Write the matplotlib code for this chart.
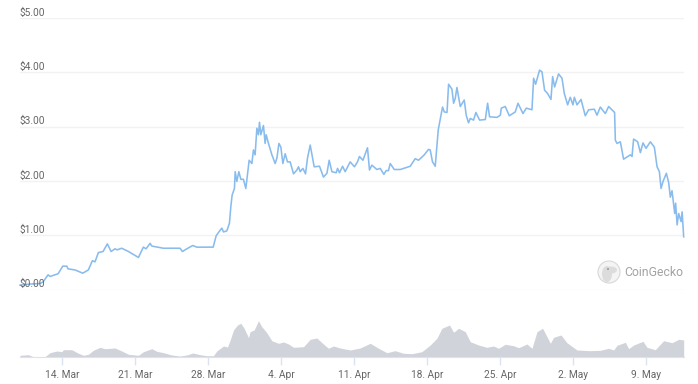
import matplotlib
matplotlib.use('Agg')
import matplotlib.pyplot as plt
from matplotlib.patches import Circle, Ellipse

# days counted from 14 Mar
price_days = [-4.03,-3.07,-2.11,-1.82,-1.34,-1.15,-0.38,0.07,0.45,0.58,1.25,1.98,2.52,2.91,3.16,3.48,3.93,4.34,4.70,5.08,5.27,5.72,6.36,7.32,7.79,8.05,8.44,8.60,9.71,11.31,11.53,11.96,12.53,12.91,14.48,14.77,14.99,15.31,15.47,15.79,16.04,16.17,16.30,16.52,16.59,16.75,16.94,17.13,17.38,17.61,17.93,18.19,18.34,18.50,18.67,18.82,18.92,19.05,19.30,19.46,19.56,19.78,20.11,20.42,20.59,20.78,20.97,21.16,21.38,21.60,21.86,22.18,22.50,22.66,22.82,23.08,23.33,23.52,23.78,24.16,24.67,25.05,25.38,25.60,25.86,26.27,26.40,26.59,26.88,27.13,27.61,28.02,28.31,28.50,28.83,29.27,29.46,29.69,30.17,30.49,30.84,31.06,31.28,31.45,31.83,32.41,33.37,33.84,34.16,34.71,35.12,35.28,35.50,35.76,36.05,36.31,36.46,36.63,36.89,37.04,37.36,37.52,37.68,37.84,38.16,38.54,38.73,38.95,39.12,39.43,39.66,40.01,40.56,40.78,40.97,41.68,42.00,42.09,42.47,42.86,43.43,43.69,44.17,44.49,45.03,45.19,45.38,45.76,45.99,46.24,46.53,46.85,47.01,47.20,47.58,47.91,48.13,48.45,48.70,48.96,49.09,49.35,49.73,50.14,50.46,51.01,51.26,51.58,52.06,52.38,52.95,53.02,53.18,53.50,53.81,54.46,54.62,54.77,55.16,55.42,55.67,55.96,56.38,56.76,57.02,57.24,57.40,57.59,57.91,58.13,58.29,58.45,58.71,58.80,58.94,59.09,59.32,59.42,59.57]
prices = [0.08,0.10,0.11,0.14,0.27,0.24,0.29,0.43,0.43,0.38,0.36,0.30,0.36,0.53,0.51,0.68,0.70,0.84,0.70,0.75,0.73,0.76,0.70,0.59,0.78,0.75,0.85,0.80,0.76,0.76,0.70,0.75,0.81,0.78,0.78,0.99,1.05,1.13,1.06,1.08,1.22,1.52,1.74,1.86,2.17,1.99,2.17,2.03,2.03,1.86,2.38,2.32,2.57,2.48,2.97,2.85,3.08,2.85,3.02,2.69,2.85,2.69,2.48,2.32,2.42,2.69,2.62,2.32,2.50,2.35,2.35,2.13,2.20,2.26,2.17,2.23,2.13,2.42,2.66,2.26,2.27,2.07,2.14,2.38,2.17,2.15,2.23,2.15,2.27,2.17,2.35,2.26,2.35,2.45,2.38,2.61,2.20,2.29,2.21,2.23,2.12,2.19,2.19,2.32,2.21,2.21,2.27,2.41,2.38,2.48,2.58,2.57,2.35,2.27,2.94,3.21,3.36,3.27,3.26,3.78,3.69,3.43,3.52,3.72,3.37,3.49,3.21,3.07,3.15,3.12,3.26,3.12,3.13,3.43,3.18,3.17,3.21,3.34,3.37,3.20,3.27,3.43,3.24,3.34,3.31,3.89,3.78,4.04,4.01,3.67,3.61,3.50,3.92,3.73,3.97,3.89,3.61,3.40,3.54,3.40,3.54,3.40,3.50,3.20,3.31,3.32,3.21,3.36,3.24,3.37,3.26,2.75,2.69,2.72,2.40,2.48,2.45,2.77,2.72,2.52,2.70,2.60,2.72,2.62,2.26,2.17,1.86,1.99,2.14,1.97,1.70,1.82,1.40,1.59,1.19,1.40,1.25,1.43,0.97]

volume_days = [-4.03,-3.23,-2.75,-1.63,-1.15,-0.51,-0.03,0.13,0.93,1.57,2.05,2.52,3.00,3.64,4.12,5.08,5.72,6.36,7.32,7.80,8.60,9.08,9.72,10.51,11.31,11.95,12.53,13.23,13.87,14.51,14.83,15.47,15.85,16.11,16.43,16.81,17.13,17.45,17.87,18.02,18.41,18.82,19.14,19.62,20.10,20.74,21.22,21.70,22.18,23.14,23.78,24.42,24.90,25.53,26.01,26.65,27.61,28.57,29.53,30.33,31.13,31.92,32.72,33.52,34.48,35.28,35.92,36.40,37.13,37.52,38.00,38.64,39.12,39.91,40.71,41.35,41.83,42.47,43.27,43.75,44.55,45.03,45.51,46.05,46.47,46.79,47.11,47.81,48.38,49.34,50.62,51.58,52.38,52.86,53.18,53.98,54.30,54.78,55.67,56.05,56.85,57.65,58.45,59.09,59.57]
volumes = [1.7,2.3,0.3,0.3,4.3,6,5.3,7.3,7.3,3.7,1.7,2.7,6.7,9.7,8.3,9,6,2.7,1.7,5.3,8.3,5.7,4.3,2,1,2,4,2.3,1.3,1.3,6,11,10,17,27,32,33.7,28.7,19.3,25.3,27,36.3,30.3,24.3,16.3,13.7,15,13,9.7,10.3,17.7,19,14.3,8.7,11,9,7,9,13.7,8.7,4.3,6.3,3.7,3.3,5.3,12,18.7,28.7,32,24.7,28.7,25.3,15.3,12,9.7,11,8.7,12.7,11.3,9.3,13,8.7,25.3,28.7,20.3,13.7,19.7,22,14.3,7,6.3,6.7,8.7,7,11.7,14.7,8.3,12,15.7,9.7,7.3,16.3,14.3,17.7,17]

tick_days = [0,7,14,21,28,35,42,49,56]
tick_labels = ['14. Mar','21. Mar','28. Mar','4. Apr','11. Apr','18. Apr','25. Apr','2. May','9. May']
price_ticks = [0,1,2,3,4,5]
price_labels = ['$0.00','$1.00','$2.00','$3.00','$4.00','$5.00']

W = 698
H = 384
plt.rcParams['font.family'] = ['Roboto','DejaVu Sans']
fig = plt.figure(figsize=(W/100,H/100),dpi=100)

# price panel
ax = fig.add_axes([20/W,(H-289.5)/H,664/W,271.5/H])
ax.set_xlim(-4.03,59.6)
ax.set_ylim(0,5)
ax.plot(price_days,prices,color='#7cb5ec',lw=1.15,alpha=0.9,clip_on=False,zorder=3)
ax.set_yticks(price_ticks)
ax.set_yticklabels([])
ax.set_xticks([])
ax.grid(axis='y',color='#f2f2f2',lw=1)
ax.set_axisbelow(True)
for s in ax.spines.values():
    s.set_visible(False)
ax.tick_params(left=False,bottom=False)
for v,l in zip(price_ticks,price_labels):
    ax.annotate(l,(0,v),xycoords=('axes fraction','data'),xytext=(0,3.8),textcoords='offset points',
                fontsize=7.3,color='#666666',va='center',ha='left',zorder=5)

# volume panel
ax2 = fig.add_axes([20/W,(H-357)/H,664/W,57/H])
ax2.set_xlim(-4.03,59.6)
ax2.set_ylim(0,57)
ax2.fill_between(volume_days,volumes,0,color='#d0d3da',lw=0)
ax2.set_yticks([])
ax2.set_xticks(tick_days)
ax2.set_xticklabels(tick_labels,fontsize=7.3,color='#666666')
ax2.tick_params(axis='x',length=6,width=1,color='#dbe3f0',pad=3)
for s in ['top','left','right']:
    ax2.spines[s].set_visible(False)
ax2.spines['bottom'].set_color('#dbe3f0')

# CoinGecko watermark
logo = fig.add_axes([0,0,1,1])
logo.set_xlim(0,W)
logo.set_ylim(H,0)
logo.axis('off')
logo.patch.set_alpha(0)
logo.add_patch(Circle((609,272),11,fc='#f4f4f4',ec='#d8d8d8',lw=0.8))
logo.add_patch(Ellipse((607,274),10,16,fc='#dcdcdc',ec='none'))
logo.add_patch(Ellipse((611,270),12,7,fc='#dcdcdc',ec='none'))
logo.add_patch(Circle((608,269),0.9,fc='#8a8a8a',ec='none'))
logo.text(624,272,'CoinGecko',fontsize=8.8,color='#a3a3a3',va='center',ha='left')

fig.savefig('out.png',dpi=100)
